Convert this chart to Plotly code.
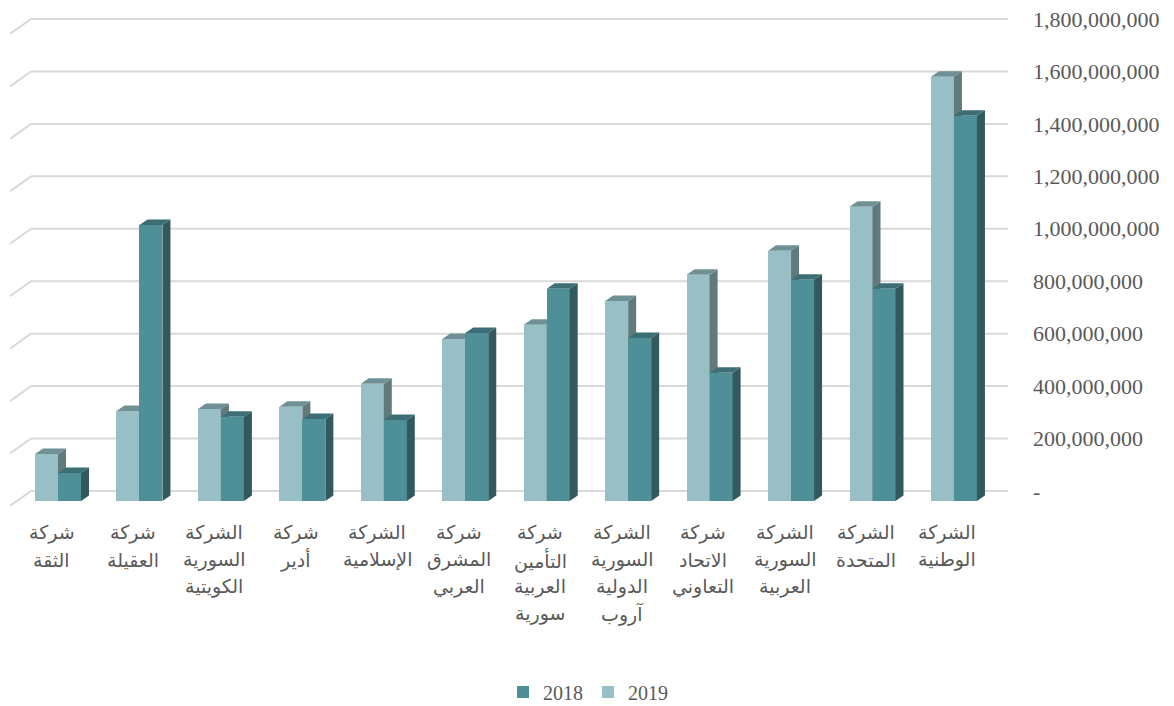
import plotly.graph_objects as go

# ---------------- data ----------------
categories = [
    "شركة<br>الثقة",
    "شركة<br>العقيلة",
    "الشركة<br>السورية<br>الكويتية",
    "شركة<br>أدير",
    "الشركة<br>الإسلامية",
    "شركة<br>المشرق<br>العربي",
    "شركة<br>التأمين<br>العربية<br>سورية",
    "الشركة<br>السورية<br>الدولية<br>آروب",
    "شركة<br>الاتحاد<br>التعاوني",
    "الشركة<br>السورية<br>العربية",
    "الشركة<br>المتحدة",
    "الشركة<br>الوطنية",
]
values_2019 = [179e6, 343e6, 351e6, 359e6, 447e6, 618e6, 672e6, 763e6, 863e6, 954e6, 1122e6, 1618e6]
values_2018 = [107e6, 1053e6, 321e6, 313e6, 309e6, 641e6, 809e6, 622e6, 489e6, 844e6, 809e6, 1469e6]
tick_values = [0, 200e6, 400e6, 600e6, 800e6, 1000e6, 1200e6, 1400e6, 1600e6, 1800e6]
tick_labels = ["-", "200,000,000", "400,000,000", "600,000,000", "800,000,000",
               "1,000,000,000", "1,200,000,000", "1,400,000,000", "1,600,000,000", "1,800,000,000"]
series_names = ["2019", "2018"]

# ---------------- geometry (pixel based layout) ----------------
# the page body has an 8px margin, so the figure origin sits at page (8, 8)
OFF = 8
W, H = 1174 - OFF, 706 - OFF
L, R, T, B = 10 - OFF, 1008 - OFF, 10 - OFF, 515 - OFF
PX_PER_CAT = 81.45
FIRST_CENTER_PX = 58 - OFF
ZERO_PX, TOP_PX = 491 - OFF, 19 - OFF
k = (ZERO_PX - TOP_PX) / tick_values[-1]          # px per value unit

xr0 = -(FIRST_CENTER_PX - L) / PX_PER_CAT
xr1 = xr0 + (R - L) / PX_PER_CAT
yr0 = -(B - ZERO_PX) / k
yr1 = (ZERO_PX - T) / k


def dxu(px):
    return px / PX_PER_CAT


def dyu(px):
    return px / k


BW = dxu(23)          # bar width
FRONT = dyu(10)       # front face drop relative to back wall
DX, DY = dxu(8), dyu(5.5)   # depth of a bar

COL = {
    "2019": dict(front="#98bec6", top="#6f9196", side="#617b7d"),
    "2018": dict(front="#4f8f98", top="#3c6e75", side="#32595e"),
}

fig = go.Figure()


def add_series(vals, name, left_shift, xa, ya, rank):
    c = COL[name]
    xs = [i + left_shift for i in range(len(vals))]
    base = -FRONT
    # front faces
    fig.add_trace(go.Bar(
        x=[x + BW / 2 for x in xs], y=vals, base=[base] * len(vals), width=BW,
        marker=dict(color=c["front"], line=dict(width=0)), name=name,
        xaxis=xa, yaxis=ya, legendrank=rank, showlegend=True, hoverinfo="y+name",
    ))
    topx, topy, sidex, sidey = [], [], [], []
    for x, v in zip(xs, vals):
        t = v - FRONT
        xl, xr = x, x + BW
        topx += [xl, xr, xr + DX, xl + DX, xl, None]
        topy += [t, t, t + DY, t + DY, t, None]
        sidex += [xr, xr, xr + DX, xr + DX, xr, None]
        sidey += [base, t, t + DY, base + DY, base, None]
    fig.add_trace(go.Scatter(x=sidex, y=sidey, fill="toself", mode="lines",
                             line=dict(width=0), fillcolor=c["side"], showlegend=False,
                             hoverinfo="skip", xaxis=xa, yaxis=ya))
    fig.add_trace(go.Scatter(x=topx, y=topy, fill="toself", mode="lines",
                             line=dict(width=0), fillcolor=c["top"], showlegend=False,
                             hoverinfo="skip", xaxis=xa, yaxis=ya))


add_series(values_2019, "2019", -BW, "x", "y", 2)
add_series(values_2018, "2018", 0.0, "x2", "y2", 1)

# gridlines (back wall + floor-side diagonals)
grid_left = xr0 + dxu(21)
shapes = []
for tv in tick_values:
    shapes.append(dict(type="line", xref="x", yref="y", x0=grid_left, x1=xr1, y0=tv, y1=tv,
                       line=dict(color="#d9d9d9", width=2), layer="below"))
    shapes.append(dict(type="line", xref="x", yref="y", x0=xr0, x1=grid_left,
                       y0=tv - dyu(15), y1=tv, line=dict(color="#d9d9d9", width=2), layer="below"))

# category labels
annotations = []
LINE0_PX, LINE_GAP = 533 - OFF, 27
for i, cat in enumerate(categories):
    for j, line in enumerate(cat.split("<br>")):
        py = LINE0_PX + j * LINE_GAP
        annotations.append(dict(
            x=i - dxu(6.5), y=(B - py) / (B - T), xref="x", yref="paper",
            text=line, showarrow=False, xanchor="center", yanchor="middle",
            font=dict(family="Arial, 'Liberation Sans', 'DejaVu Sans', sans-serif", size=19, color="#595959"),
        ))

axis_common = dict(showgrid=False, zeroline=False, showline=False, automargin=False)
fig.update_layout(
    width=W, height=H,
    margin=dict(l=L, r=W - R, t=T, b=H - B, pad=0, autoexpand=False),
    paper_bgcolor="white", plot_bgcolor="white",
    barmode="overlay", bargap=0,
    xaxis=dict(range=[xr0, xr1], visible=False, **axis_common),
    xaxis2=dict(range=[xr0, xr1], visible=False, overlaying="x", **axis_common),
    yaxis=dict(range=[yr0, yr1], side="right", tickvals=tick_values, ticktext=tick_labels,
               ticks="", ticklabelstandoff=24, ticklabeloverflow="allow",
               tickfont=dict(family="'Times New Roman', 'Liberation Serif', serif", size=22, color="#595959"),
               **axis_common),
    yaxis2=dict(range=[yr0, yr1], visible=False, overlaying="y", **axis_common),
    shapes=shapes,
    annotations=annotations,
    legend=dict(orientation="h", x=(588 - OFF - L) / (R - L), xanchor="center",
                y=(B - (692 - OFF)) / (B - T), yanchor="middle",
                font=dict(family="'Times New Roman', 'Liberation Serif', serif", size=20, color="#595959"),
                traceorder="normal"),
    showlegend=True,
)

fig.write_html("out.html")
